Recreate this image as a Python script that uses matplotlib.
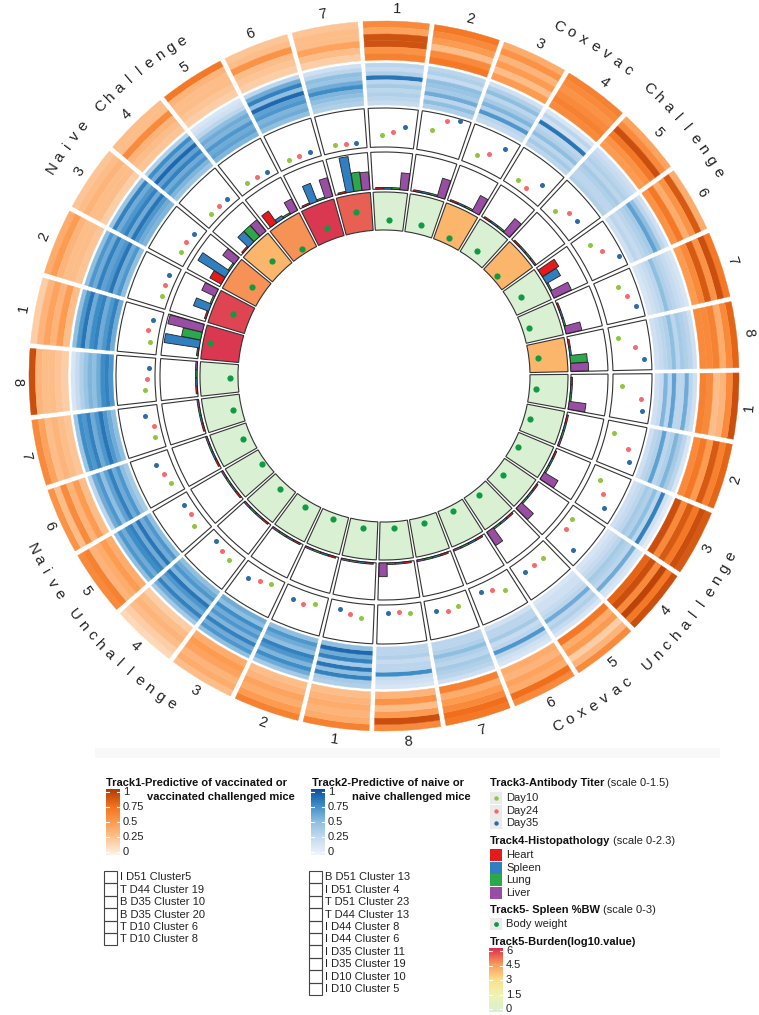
import numpy as np
import matplotlib.pyplot as plt
from matplotlib.colors import LinearSegmentedColormap
from matplotlib.patches import Rectangle

plt.rcParams['font.family'] = ['Liberation Sans', 'DejaVu Sans']

# ---------------- data ----------------
group_names = ['Coxevac Challenge', 'Coxevac Unchallenge', 'Naive Unchallenge', 'Naive Challenge']
group_sizes = [8, 8, 8, 7]
mouse_ids = [str(i) for n in group_sizes for i in range(1, n + 1)]

# track 1: 6 clusters per mouse (outer -> inner), 0-1
track1 = [
    [0.60, 0.45, 0.88, 0.88, 0.55, 0.65], [0.70, 0.60, 0.50, 0.30, 0.60, 0.70],
    [0.40, 0.55, 0.35, 0.50, 0.30, 0.50], [0.65, 0.60, 0.55, 0.60, 0.65, 0.60],
    [0.45, 0.60, 0.90, 0.70, 0.55, 0.50], [0.40, 0.85, 0.55, 0.40, 0.70, 0.55],
    [0.70, 0.90, 0.55, 0.85, 0.60, 0.50], [0.80, 0.60, 0.40, 0.65, 0.60, 0.60],
    [0.90, 0.60, 0.35, 0.30, 0.60, 0.65], [0.80, 0.65, 0.85, 0.50, 0.70, 0.60],
    [0.85, 0.90, 0.70, 0.85, 0.60, 0.90], [0.90, 0.70, 0.95, 0.60, 0.90, 0.80],
    [0.60, 0.35, 0.20, 0.50, 0.40, 0.70], [0.60, 0.75, 0.40, 0.45, 0.35, 0.40],
    [0.70, 0.75, 0.60, 0.50, 0.40, 0.65], [0.60, 0.90, 0.50, 0.30, 0.55, 0.35],
    [0.65, 0.40, 0.35, 0.40, 0.35, 0.30], [0.65, 0.50, 0.40, 0.45, 0.35, 0.30],
    [0.30, 0.40, 0.35, 0.45, 0.50, 0.40], [0.15, 0.20, 0.30, 0.35, 0.30, 0.20],
    [0.60, 0.65, 0.35, 0.40, 0.50, 0.40], [0.55, 0.30, 0.60, 0.35, 0.50, 0.30],
    [0.60, 0.45, 0.30, 0.35, 0.30, 0.25], [0.90, 0.35, 0.30, 0.30, 0.25, 0.20],
    [0.20, 0.35, 0.45, 0.35, 0.50, 0.30], [0.40, 0.50, 0.35, 0.30, 0.30, 0.25],
    [0.25, 0.30, 0.35, 0.30, 0.30, 0.20], [0.30, 0.30, 0.60, 0.35, 0.30, 0.25],
    [0.70, 0.35, 0.30, 0.30, 0.25, 0.20], [0.25, 0.30, 0.55, 0.30, 0.25, 0.20],
    [0.25, 0.30, 0.30, 0.45, 0.30, 0.20],
]

# track 2: 10 clusters per mouse (outer -> inner), 0-1
track2 = [
    [0.30, 0.25, 0.35, 0.85, 0.30, 0.40, 0.30, 0.35, 0.30, 0.25],
    [0.30, 0.35, 0.25, 0.50, 0.45, 0.40, 0.60, 0.30, 0.50, 0.35],
    [0.20, 0.35, 0.50, 0.30, 0.40, 0.55, 0.35, 0.70, 0.30, 0.25],
    [0.15, 0.30, 0.20, 0.85, 0.30, 0.35, 0.50, 0.30, 0.40, 0.30],
    [0.20, 0.25, 0.30, 0.35, 0.30, 0.40, 0.35, 0.30, 0.30, 0.35],
    [0.20, 0.30, 0.50, 0.65, 0.40, 0.35, 0.30, 0.25, 0.30, 0.20],
    [0.15, 0.20, 0.25, 0.30, 0.35, 0.50, 0.30, 0.25, 0.20, 0.15],
    [0.20, 0.30, 0.35, 0.40, 0.30, 0.50, 0.35, 0.30, 0.25, 0.20],
    [0.20, 0.30, 0.60, 0.30, 0.30, 0.65, 0.30, 0.55, 0.25, 0.20],
    [0.15, 0.30, 0.40, 0.55, 0.35, 0.30, 0.65, 0.35, 0.30, 0.20],
    [0.10, 0.20, 0.80, 0.30, 0.50, 0.35, 0.40, 0.30, 0.25, 0.20],
    [0.15, 0.20, 0.60, 0.30, 0.35, 0.40, 0.30, 0.25, 0.20, 0.15],
    [0.15, 0.25, 0.35, 0.30, 0.60, 0.30, 0.25, 0.20, 0.20, 0.15],
    [0.15, 0.20, 0.30, 0.70, 0.30, 0.25, 0.40, 0.30, 0.30, 0.20],
    [0.20, 0.30, 0.35, 0.40, 0.30, 0.35, 0.50, 0.35, 0.30, 0.30],
    [0.15, 0.20, 0.25, 0.75, 0.30, 0.30, 0.25, 0.35, 0.30, 0.30],
    [0.35, 0.40, 0.80, 0.50, 0.85, 0.40, 0.80, 0.60, 0.90, 0.50],
    [0.40, 0.60, 0.75, 0.55, 0.70, 0.80, 0.50, 0.60, 0.70, 0.50],
    [0.50, 0.70, 0.60, 0.80, 0.55, 0.70, 0.60, 0.75, 0.50, 0.60],
    [0.40, 0.60, 0.80, 0.60, 0.70, 0.85, 0.55, 0.70, 0.60, 0.50],
    [0.50, 0.70, 0.60, 0.75, 0.80, 0.60, 0.85, 0.60, 0.70, 0.50],
    [0.30, 0.60, 0.70, 0.50, 0.65, 0.80, 0.60, 0.70, 0.50, 0.40],
    [0.45, 0.75, 0.70, 0.80, 0.60, 0.70, 0.85, 0.70, 0.60, 0.50],
    [0.15, 0.25, 0.35, 0.45, 0.55, 0.50, 0.60, 0.75, 0.80, 0.70],
    [0.50, 0.70, 0.85, 0.60, 0.75, 0.80, 0.60, 0.70, 0.80, 0.60],
    [0.50, 0.70, 0.60, 0.80, 0.65, 0.70, 0.85, 0.60, 0.70, 0.50],
    [0.45, 0.80, 0.60, 0.70, 0.80, 0.60, 0.85, 0.70, 0.60, 0.55],
    [0.35, 0.75, 0.60, 0.90, 0.65, 0.80, 0.60, 0.70, 0.55, 0.45],
    [0.15, 0.20, 0.30, 0.50, 0.60, 0.55, 0.70, 0.60, 0.65, 0.55],
    [0.30, 0.60, 0.80, 0.50, 0.90, 0.65, 0.70, 0.55, 0.60, 0.50],
    [0.20, 0.30, 0.50, 0.45, 0.60, 0.75, 0.55, 0.50, 0.40, 0.35],
]

# track 3: antibody titer (0-1.5)
day10 = [0.45, 0.82, 0.40, 0.30, 0.34, 0.56, 0.83, 0.30, 0.34, 0.30, 0.40, 0.30, 0.49, 0.63, 0.50, 0.35,
         0.55, 0.35, 0.30, 0.45, 0.50, 0.35, 0.30, 0.40, 0.30, 0.26, 0.35, 0.30, 0.30, 0.26, 0.26]
day24 = [0.60, 1.30, 0.64, 0.27, 0.66, 0.86, 1.03, 0.90, 1.13, 1.00, 0.75, 0.34, 0.49, 0.40, 0.55, 0.30,
         0.45, 0.50, 0.40, 0.35, 0.30, 0.45, 0.25, 0.30, 0.45, 0.30, 0.40, 0.30, 0.26, 0.26, 0.23]
day35 = [0.79, 1.43, 1.10, 0.73, 0.71, 1.35, 1.24, 1.22, 1.19, 1.20, 1.05, 1.09, 0.49, 0.30, 0.45, 0.30,
         0.30, 0.45, 0.55, 0.25, 0.35, 0.60, 0.50, 0.25, 0.35, 0.35, 0.30, 0.29, 0.23, 0.26, 0.23]

# track 4: histopathology (0-2.3)
heart = [0, 0, 0, 0, 0, 1.2, 0, 0, 0, 0, 0, 0, 0, 0, 0, 0,
         0, 0, 0, 0, 0, 0, 0, 0, 0, 0, 0.8, 0, 0.9, 0, 0]
spleen = [0, 0, 0, 0, 0, 1.0, 0, 0, 0, 0, 0, 0, 0, 0, 0, 0,
          0, 0, 0, 0, 0, 0, 0, 0, 2.2, 1.0, 2.0, 0.9, 0.2, 1.2, 2.2]
lung = [0, 0, 0, 0, 0, 0, 0, 1.05, 0, 0, 0, 0, 0, 0, 0, 0,
        0, 0, 0, 0, 0, 0, 0, 0, 1.2, 0, 0, 0.9, 0, 0, 1.15]
liver = [1.05, 1.2, 1.1, 1.1, 0, 1.2, 1.0, 1.1, 1.05, 0, 1.0, 1.0, 1.0, 0, 0, 0.85,
         0, 0, 0, 0, 0, 0, 0, 0, 2.2, 0.9, 0.9, 0.9, 0.8, 1.2, 1.1]

# track 5: burden (log10) and spleen %BW (0-3)
burden = [0, 0, 3.9, 0, 3.9, 0, 0, 3.9, 0, 0, 0, 0, 0, 0, 0, 0,
          0, 0, 0, 0, 0, 0, 0, 0, 5.9, 5.7, 4.6, 3.9, 4.6, 5.9, 5.3]
body_weight = [0.80, 0.77, 0.55, 0.76, 0.40, 1.00, 0.55, 0.70, 0.53, 0.46, 0.45, 0.73, 0.46, 0.44, 0.48, 0.49,
               0.60, 0.48, 0.52, 0.60, 0.37, 0.63, 0.68, 0.60, 2.45, 1.37, 1.05, 1.15, 0.40, 1.00, 1.60]

track1_clusters = ['I D51 Cluster5', 'T D44 Cluster 19', 'B D35 Cluster 10', 'B D35 Cluster 20',
                   'T D10 Cluster 6', 'T D10 Cluster 8']
track2_clusters = ['B D51 Cluster 13', 'I D51 Cluster 4', 'T D51 Cluster 23', 'T D44 Cluster 13',
                   'I D44 Cluster 8', 'I D44 Cluster 6', 'I D35 Cluster 11', 'I D35 Cluster 19',
                   'I D10 Cluster 10', 'I D10 Cluster 5']

# ---------------- colours ----------------
orange_cmap = LinearSegmentedColormap.from_list('or', ['#fff4e8', '#fdc596', '#fd9b50', '#f2701c', '#b03a05'])
blue_cmap = LinearSegmentedColormap.from_list('bl', ['#f0f5fc', '#c6dbef', '#8fbfe0', '#3e8ec8', '#0b4f9c'])
burden_cmap = LinearSegmentedColormap.from_list('bu', ['#d9f0d3', '#eaf5b4', '#fee08b', '#fa9a58', '#d8304f'])
ab_colors = ['#8dc63f', '#f8696b', '#2c6aa8']
histo_colors = ['#e41a1c', '#2f7fc1', '#2ba84a', '#984ea3']
bw_color = '#0f9a43'
edge = '#333333'

# ---------------- figure ----------------
W, H = 759, 1015
fig = plt.figure(figsize=(W / 100, H / 100), dpi=100)

lg = fig.add_axes([0, 0, 1, 1])
lg.set_xlim(0, W)
lg.set_ylim(H, 0)
lg.axis('off')

cx, cy, R = 384, 376, 400
ax = fig.add_axes([(cx - R) / W, (H - cy - R) / H, 2 * R / W, 2 * R / H], projection='polar')
ax.set_theta_zero_location('N')
ax.set_theta_direction(-1)
ax.set_ylim(0, R)
ax.axis('off')

n = len(mouse_ids)
step = 360 / n
sec_w = np.deg2rad(step - 0.85)
left = np.deg2rad(-3.4 + np.arange(n) * step)
mid = left + sec_w / 2

# track 1 heatmap
t1 = np.array(track1)
r_in, r_out = 316, 355
h = (r_out - r_in) / t1.shape[1]
for j in range(t1.shape[1]):
    cols = orange_cmap(t1[:, j])
    ax.bar(mid, h, width=sec_w, bottom=r_out - (j + 1) * h, color=cols, edgecolor=cols, linewidth=0.3)

# track 2 heatmap
t2 = np.array(track2)
r_in, r_out = 271, 313
h = (r_out - r_in) / t2.shape[1]
for j in range(t2.shape[1]):
    cols = blue_cmap(t2[:, j])
    ax.bar(mid, h, width=sec_w, bottom=r_out - (j + 1) * h, color=cols, edgecolor=cols, linewidth=0.3)

# track 3 antibody titer
r3, h3 = 229, 39
ax.bar(mid, h3, width=sec_w, bottom=r3, fill=False, edgecolor=edge, linewidth=0.8)
for frac, vals, col in zip([0.27, 0.52, 0.77], [day10, day24, day35], ab_colors):
    ax.scatter(left + frac * sec_w, r3 + np.array(vals) / 1.5 * h3, s=13, color=col, linewidths=0, zorder=3)

# track 4 histopathology
r4, h4 = 187, 37
ax.bar(mid, h4, width=sec_w, bottom=r4, fill=False, edgecolor=edge, linewidth=0.8)
for frac, vals, col in zip([0.19, 0.42, 0.65, 0.88], [heart, spleen, lung, liver], histo_colors):
    hh = np.maximum(np.array(vals) / 2.3 * h4, 1.6)
    ax.bar(left + frac * sec_w, hh, width=0.22 * sec_w, bottom=r4, color=col, edgecolor='#222222',
           linewidth=0.6, zorder=2)

# track 5 burden + spleen %BW
r5, h5 = 146, 38
ax.bar(mid, h5, width=sec_w, bottom=r5, color=burden_cmap(np.array(burden) / 6), edgecolor=edge, linewidth=0.8)
ax.scatter(mid, r5 + np.array(body_weight) / 3 * h5, s=20, color=bw_color, linewidths=0, zorder=3)


def facing(theta_deg):
    t = theta_deg % 360
    if 90 < t < 270:
        return 180 - t
    return -t


# mouse numbers
for th, lab in zip(np.rad2deg(mid), mouse_ids):
    ax.text(np.deg2rad(th), 367, lab, rotation=facing(th), rotation_mode='anchor',
            ha='center', va='center', fontsize=10.5, color='#222222')

# group names, letter by letter along the circle
k0 = 0
for name, size in zip(group_names, group_sizes):
    centre = np.rad2deg(mid[k0:k0 + size]).mean()
    k0 += size
    lower = 90 < centre % 360 < 270
    d = 2.0 if 'Coxevac' in name else 1.92
    for k, ch in enumerate(name):
        off = (k - (len(name) - 1) / 2) * d
        th = centre - off if lower else centre + off
        if ch != ' ':
            ax.text(np.deg2rad(th), 391, ch, rotation=facing(th), rotation_mode='anchor',
                    ha='center', va='center', fontsize=11, color='#222222')

# ---------------- legends ----------------
lg.add_patch(Rectangle((95, 748), 625, 10, color='#f8f8f8', lw=0))
renderer = fig.canvas.get_renderer()
fs = 8


def title(x, y, bold, plain=None):
    t = lg.text(x, y, bold, fontsize=fs, fontweight='bold', va='center', ha='left', color='#111111')
    if plain:
        bb = t.get_window_extent(renderer=renderer)
        x_end = lg.transData.inverted().transform((bb.x1, bb.y0))[0]
        lg.text(x_end + 3, y, plain, fontsize=fs, va='center', ha='left', color='#222222')


def colorbar(x0, cmap, ticks, labels, vmax, y_top=789, y_bot=855):
    grad = np.linspace(1, 0, 200)[:, None]
    lg.imshow(grad, cmap=cmap, extent=(x0, x0 + 14, y_bot, y_top), aspect='auto', origin='upper')
    for tv, tl in zip(ticks, labels):
        y = (y_bot - 3) - tv / vmax * (y_bot - y_top - 6)
        lg.plot([x0, x0 + 3], [y, y], color='white', lw=0.8)
        lg.plot([x0 + 11, x0 + 14], [y, y], color='white', lw=0.8)
        lg.text(x0 + 17, y, tl, fontsize=fs, va='center', ha='left', color='#222222')


def boxes(x0, y0, labels):
    for k, lab in enumerate(labels):
        lg.add_patch(Rectangle((x0, y0 + k * 12.4), 13, 12.4, fill=False, edgecolor='#444444', lw=0.8))
        lg.text(x0 + 16, y0 + k * 12.4 + 6.4, lab, fontsize=fs, va='center', ha='left', color='#222222')


# track 1 / track 2
title(106, 783, 'Track1-Predictive of vaccinated or')
title(147, 797, 'vaccinated challenged mice')
colorbar(106, orange_cmap, [1, 0.75, 0.5, 0.25, 0], ['1', '0.75', '0.5', '0.25', '0'], 1)
boxes(104, 871, track1_clusters)

title(312, 783, 'Track2-Predictive of naive or')
title(352, 797, 'naive challenged mice')
colorbar(311, blue_cmap, [1, 0.75, 0.5, 0.25, 0], ['1', '0.75', '0.5', '0.25', '0'], 1)
boxes(309, 871, track2_clusters)

# track 3
title(490, 783, 'Track3-Antibody Titer', '(scale 0-1.5)')
for k, (lab, col) in enumerate(zip(['Day10', 'Day24', 'Day35'], ab_colors)):
    y = 798 + k * 12.5
    lg.add_patch(Rectangle((490, y - 6), 12, 12, color='#ebebeb', lw=0))
    lg.scatter([496], [y], s=10, color=col, linewidths=0)
    lg.text(506, y, lab, fontsize=fs, va='center', ha='left', color='#222222')

# track 4
title(490, 841, 'Track4-Histopathology', '(scale 0-2.3)')
for k, (lab, col) in enumerate(zip(['Heart', 'Spleen', 'Lung', 'Liver'], histo_colors)):
    y = 855 + k * 12.6
    lg.add_patch(Rectangle((490, y - 6), 12, 12, color=col, lw=0))
    lg.text(506, y, lab, fontsize=fs, va='center', ha='left', color='#222222')

# track 5
title(490, 910, 'Track5- Spleen %BW', '(scale 0-3)')
lg.add_patch(Rectangle((490, 918), 12, 12, color='#ebebeb', lw=0))
lg.scatter([496], [924], s=12, color=bw_color, linewidths=0)
lg.text(506, 924, 'Body weight', fontsize=fs, va='center', ha='left', color='#222222')

title(490, 942, 'Track5-Burden(log10.value)')
colorbar(489, burden_cmap, [6, 4.5, 3, 1.5, 0], ['6', '4.5', '3', '1.5', '0'], 6, y_top=948, y_bot=1012)

fig.savefig('out.png', dpi=100)
